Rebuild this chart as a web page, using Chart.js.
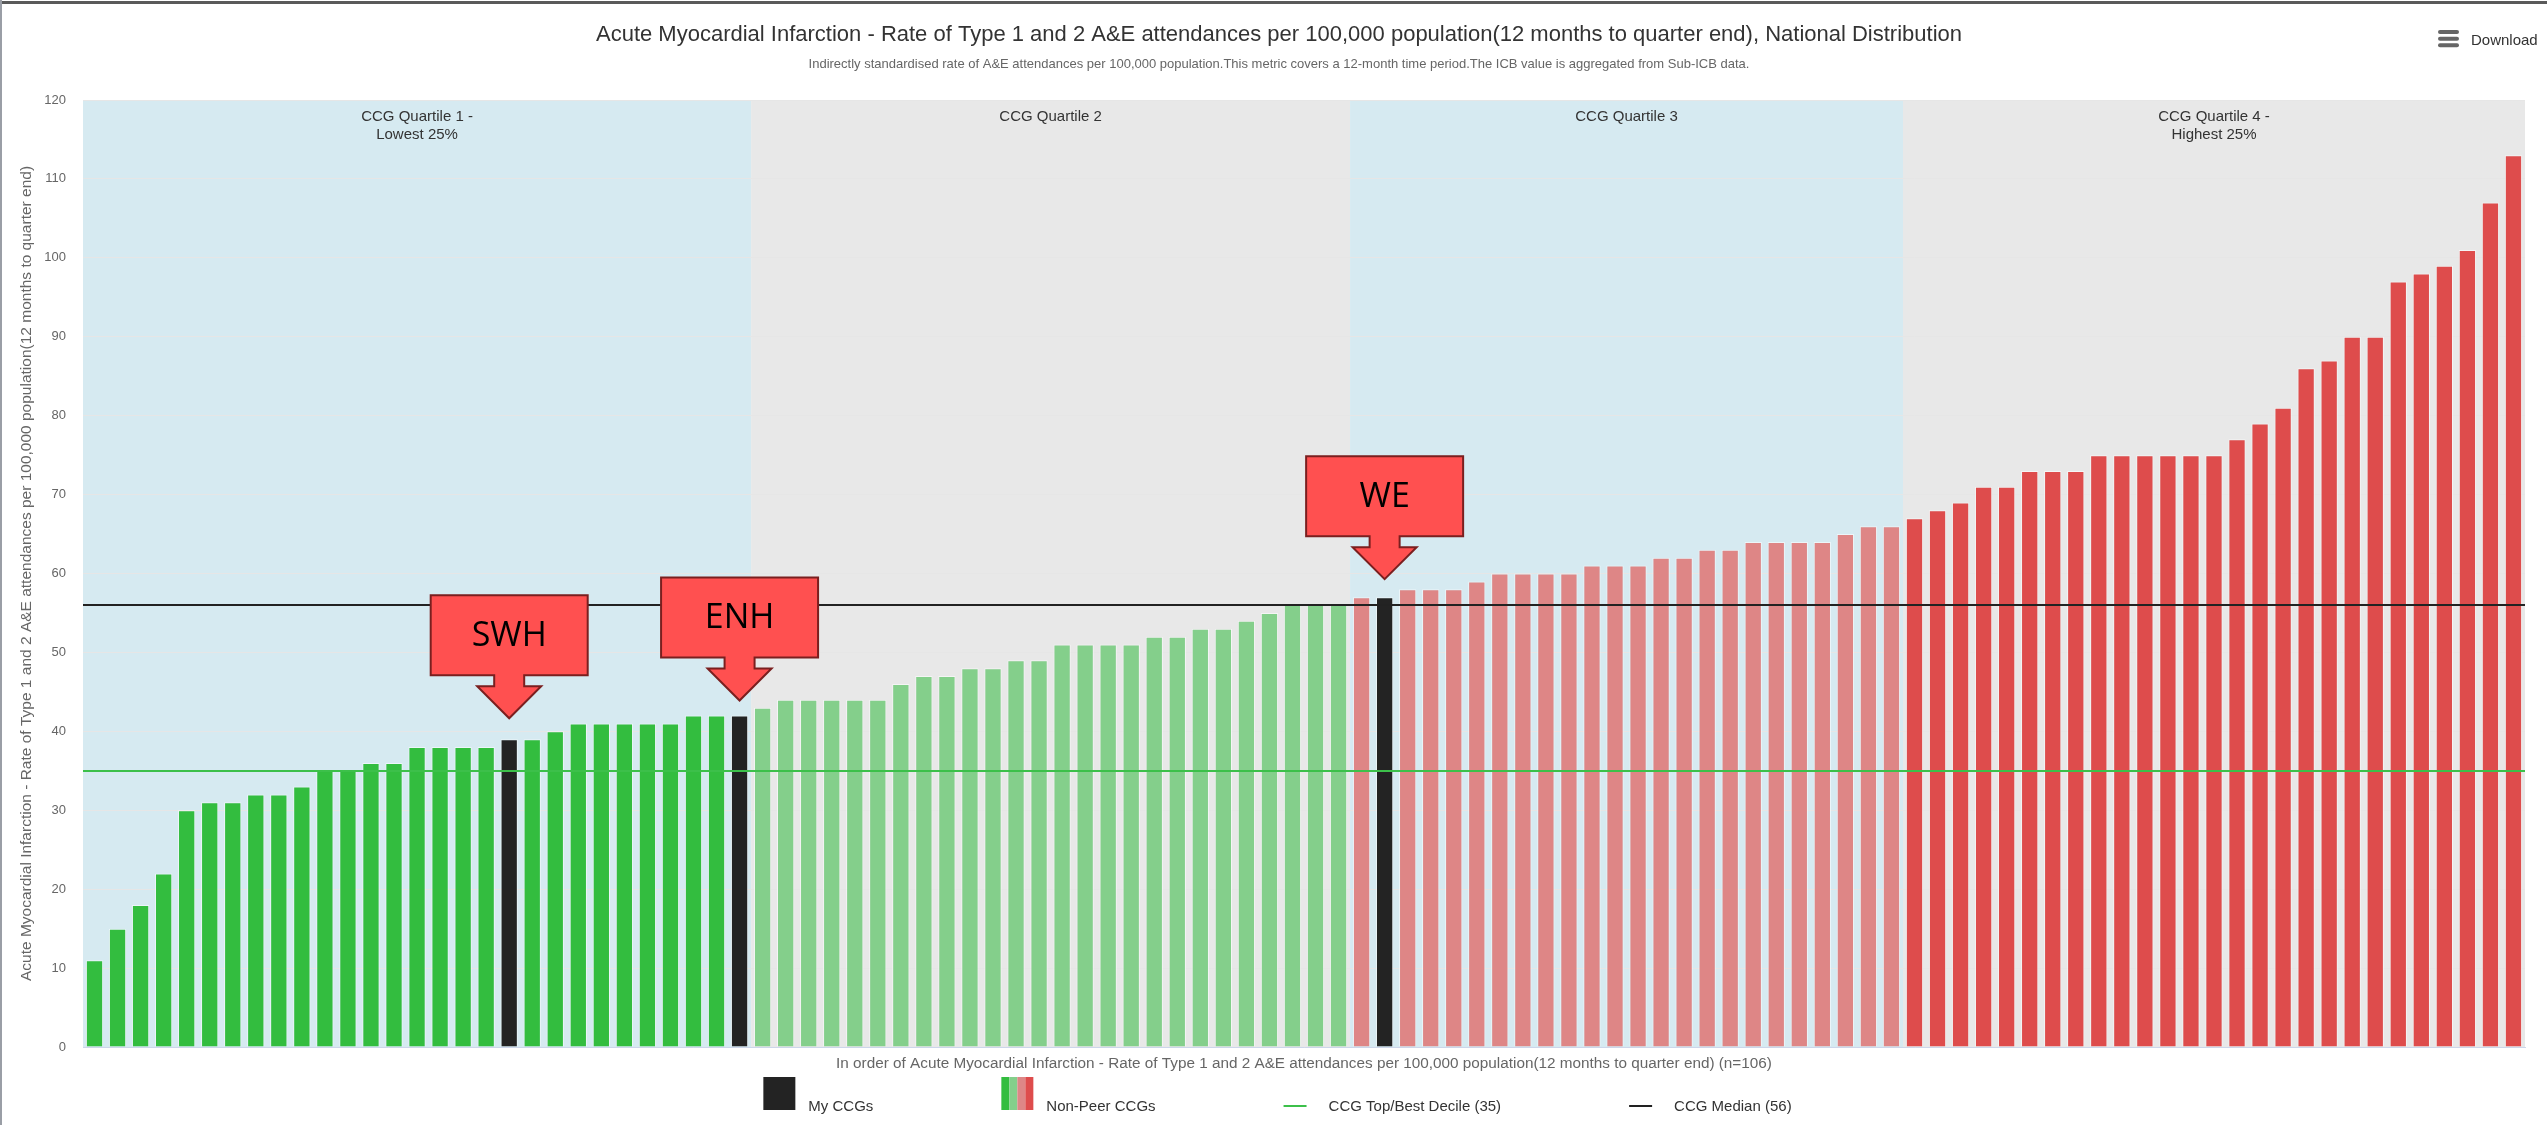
<!DOCTYPE html>
<html>
<head>
<meta charset="utf-8">
<title>Acute Myocardial Infarction - National Distribution</title>
<script src="https://cdn.jsdelivr.net/npm/chart.js@4.4.1/dist/chart.umd.min.js"></script>
<style>
  html, body { margin: 0; padding: 0; background: #fff; }
  #wrap { width: 2547px; height: 1125px; position: relative; }
</style>
</head>
<body>
<div id="wrap"><canvas id="chart" width="2547" height="1125"></canvas></div>
<script>
// rates per 100,000, sorted, one array per quartile
var q1Values = [11, 15, 18, 22, 30, 31, 31, 32, 32, 33, 35, 35, 36, 36, 38, 38, 38, 38, 39, 39, 40, 41, 41, 41, 41, 41, 42, 42, 42];
var q2Values = [43, 44, 44, 44, 44, 44, 46, 47, 47, 48, 48, 49, 49, 51, 51, 51, 51, 52, 52, 53, 53, 54, 55, 56, 56, 56];
var q3Values = [57, 57, 58, 58, 58, 59, 60, 60, 60, 60, 61, 61, 61, 62, 62, 63, 63, 64, 64, 64, 64, 65, 66, 66];
var q4Values = [67, 68, 69, 71, 71, 73, 73, 73, 75, 75, 75, 75, 75, 75, 77, 79, 81, 86, 87, 90, 90, 97, 98, 99, 101, 107, 113];

var quartileLabels = [['CCG Quartile 1 -', 'Lowest 25%'], ['CCG Quartile 2'], ['CCG Quartile 3'], ['CCG Quartile 4 -', 'Highest 25%']];

// my CCGs: position in the ranking + callout name
var myCcgIndex = [18, 28, 56];
var myCcgNames = ['SWH', 'ENH', 'WE'];

var medianValue = 56;
var topDecileValue = 35;

var legendLabels = ['My CCGs', 'Non-Peer CCGs', 'CCG Top/Best Decile (35)', 'CCG Median (56)'];

var titleText = 'Acute Myocardial Infarction - Rate of Type 1 and 2 A&E attendances per 100,000 population(12 months to quarter end), National Distribution';
var subtitleText = 'Indirectly standardised rate of A&E attendances per 100,000 population.This metric covers a 12-month time period.The ICB value is aggregated from Sub-ICB data.';
var yTitle = 'Acute Myocardial Infarction - Rate of Type 1 and 2 A&E attendances per 100,000 population(12 months to quarter end)';
var xTitle = 'In order of Acute Myocardial Infarction - Rate of Type 1 and 2 A&E attendances per 100,000 population(12 months to quarter end) (n=106)';

// colours
var quartileColors = ['#33bd3f', '#84cf8b', '#de8686', '#de4c4c'];
var bandColors = ['#d6eaf1', '#e8e8e8', '#d6eaf1', '#e8e8e8'];
var myCcgColor = '#232323';
var medianColor = '#222222';
var decileColor = '#3cc04a';
var calloutFill = '#ff5050';
var calloutStroke = '#7a1f1f';
var fontFamily = '"Liberation Sans", Arial, sans-serif';

var quartileValues = [q1Values, q2Values, q3Values, q4Values];
var values = [];
var barColors = [];
var labels = [];
quartileValues.forEach(function (arr, q) {
	arr.forEach(function (v) {
		values.push(v);
		barColors.push(quartileColors[q]);
	});
});
myCcgIndex.forEach(function (i) { barColors[i] = myCcgColor; });
for (var i = 0; i < values.length; i++) {
	labels.push(String(i + 1));
}

Chart.defaults.font.family = fontFamily;

// quartile bands + their labels, under the grid
var bandsPlugin = {
	id: 'bands',
	beforeDraw: function (chart) {
		var ctx = chart.ctx, ca = chart.chartArea, x = chart.scales.x;
		var half = (x.getPixelForValue(1) - x.getPixelForValue(0)) / 2;
		var start = 0;
		ctx.save();
		quartileValues.forEach(function (arr, q) {
			var end = start + arr.length - 1;
			var left = q === 0 ? ca.left : x.getPixelForValue(start) - half;
			var right = q === quartileValues.length - 1 ? ca.right : x.getPixelForValue(end) + half;
			ctx.fillStyle = bandColors[q];
			ctx.fillRect(left, ca.top, right - left, ca.bottom - ca.top);
			ctx.fillStyle = '#333333';
			ctx.font = '15px ' + fontFamily;
			ctx.textAlign = 'center';
			ctx.textBaseline = 'alphabetic';
			quartileLabels[q].forEach(function (line, k) {
				ctx.fillText(line, (left + right) / 2, ca.top + 21 + k * 18);
			});
			start += arr.length;
		});
		ctx.restore();
	}
};

// median and top decile lines across the plot
var refLinesPlugin = {
	id: 'refLines',
	afterDatasetsDraw: function (chart) {
		var ctx = chart.ctx, ca = chart.chartArea, y = chart.scales.y;
		ctx.save();
		ctx.lineWidth = 2;
		[[topDecileValue, decileColor], [medianValue, medianColor]].forEach(function (l) {
			var py = Math.round(y.getPixelForValue(l[0]));
			ctx.strokeStyle = l[1];
			ctx.beginPath();
			ctx.moveTo(ca.left, py);
			ctx.lineTo(ca.right, py);
			ctx.stroke();
		});
		ctx.restore();
	}
};

// red arrow callouts, legend, download button, frame
var overlayPlugin = {
	id: 'overlay',
	afterDraw: function (chart) {
		var ctx = chart.ctx, x = chart.scales.x, y = chart.scales.y;
		var gaps = [21, 15, 18];
		ctx.save();

		myCcgIndex.forEach(function (idx, k) {
			var cx = x.getPixelForValue(idx);
			var tip = y.getPixelForValue(values[idx]) - gaps[k];
			var headH = 32, headW = 64, shaftW = 30, shaftH = 11, boxW = 157, boxH = 80;
			var boxBottom = tip - headH - shaftH;
			var boxTop = boxBottom - boxH;
			ctx.beginPath();
			ctx.moveTo(cx - boxW / 2, boxTop);
			ctx.lineTo(cx + boxW / 2, boxTop);
			ctx.lineTo(cx + boxW / 2, boxBottom);
			ctx.lineTo(cx + shaftW / 2, boxBottom);
			ctx.lineTo(cx + shaftW / 2, boxBottom + shaftH);
			ctx.lineTo(cx + headW / 2, boxBottom + shaftH);
			ctx.lineTo(cx, tip);
			ctx.lineTo(cx - headW / 2, boxBottom + shaftH);
			ctx.lineTo(cx - shaftW / 2, boxBottom + shaftH);
			ctx.lineTo(cx - shaftW / 2, boxBottom);
			ctx.lineTo(cx - boxW / 2, boxBottom);
			ctx.closePath();
			ctx.fillStyle = calloutFill;
			ctx.fill();
			ctx.lineWidth = 2;
			ctx.strokeStyle = calloutStroke;
			ctx.stroke();
			ctx.fillStyle = '#000';
			ctx.font = '34px "Open Sans", sans-serif';
			ctx.textAlign = 'center';
			ctx.textBaseline = 'middle';
			ctx.fillText(myCcgNames[k], cx, boxTop + boxH / 2 + 1);
		});

		// legend
		ctx.font = '15px ' + fontFamily;
		ctx.textAlign = 'left';
		ctx.textBaseline = 'alphabetic';
		var gap = 128, sq = 32, lineW = 23;
		var widths = legendLabels.map(function (t, i) {
			return (i < 2 ? sq + 13 : lineW + 22) + ctx.measureText(t).width;
		});
		var total = widths.reduce(function (a, b) { return a + b; }, 0) + gap * (widths.length - 1);
		var lx = chart.width / 2 + 4 - total / 2;
		var boxTop = 1077, base = 1111, lineY = 1106;
		legendLabels.forEach(function (t, i) {
			if (i === 0) {
				ctx.fillStyle = myCcgColor;
				ctx.fillRect(lx, boxTop, sq, sq + 1);
				lx += sq + 13;
			} else if (i === 1) {
				quartileColors.forEach(function (c, s) {
					ctx.fillStyle = c;
					ctx.fillRect(lx + s * sq / 4, boxTop, sq / 4, sq + 1);
				});
				lx += sq + 13;
			} else {
				ctx.strokeStyle = i === 2 ? decileColor : medianColor;
				ctx.lineWidth = 2;
				ctx.beginPath();
				ctx.moveTo(lx, lineY);
				ctx.lineTo(lx + lineW, lineY);
				ctx.stroke();
				lx += lineW + 22;
			}
			ctx.fillStyle = '#333333';
			ctx.fillText(t, lx, base);
			lx += ctx.measureText(t).width + gap;
		});

		// download menu
		ctx.strokeStyle = '#666666';
		ctx.lineWidth = 4;
		ctx.lineCap = 'round';
		[32, 38.7, 45.3].forEach(function (py) {
			ctx.beginPath();
			ctx.moveTo(2440, py);
			ctx.lineTo(2457, py);
			ctx.stroke();
		});
		ctx.fillStyle = '#333333';
		ctx.font = '15px ' + fontFamily;
		ctx.fillText('Download', 2471, 45);

		// screenshot frame
		ctx.fillStyle = '#5a5a5a';
		ctx.fillRect(0, 1, chart.width, 3);
		ctx.fillStyle = '#9a9ea6';
		ctx.fillRect(0, 0, 2, chart.height);
		ctx.restore();
	}
};

new Chart(document.getElementById('chart'), {
	type: 'bar',
	data: {
		labels: labels,
		datasets: [{
			data: values,
			backgroundColor: barColors,
			borderColor: 'rgba(255,255,255,0.55)',
			borderWidth: 1,
			barPercentage: 0.75,
			categoryPercentage: 1
		}]
	},
	options: {
		responsive: false,
		animation: false,
		events: [],
		layout: { padding: { left: 33, right: 22, top: 0, bottom: 50 } },
		plugins: {
			legend: { display: false },
			tooltip: { enabled: false },
			title: {
				display: true,
				text: titleText,
				color: '#333333',
				font: { size: 22, weight: 'normal' },
				padding: { top: 22, bottom: 8 }
			},
			subtitle: {
				display: true,
				text: subtitleText,
				color: '#666666',
				font: { size: 13, weight: 'normal' },
				padding: { top: 0, bottom: 28 }
			}
		},
		scales: {
			x: {
				grid: { display: false },
				border: { display: true, color: '#ccd6eb', width: 1 },
				ticks: { display: false },
				title: {
					display: true,
					text: xTitle,
					color: '#666666',
					font: { size: 15.3 },
					padding: { top: 7, bottom: 2 }
				},
				afterFit: function (s) { s.height = 28; }
			},
			y: {
				min: 0,
				max: 120,
				ticks: { stepSize: 10, color: '#666666', font: { size: 13 }, padding: 17 },
				grid: { color: '#e6e6e6', drawTicks: false },
				border: { display: false },
				title: {
					display: true,
					text: yTitle,
					color: '#666666',
					font: { size: 15.5 },
					padding: { top: -16, bottom: 0 }
				},
				afterFit: function (s) { s.width = 50; }
			}
		}
	},
	plugins: [bandsPlugin, refLinesPlugin, overlayPlugin]
});
</script>
</body>
</html>
